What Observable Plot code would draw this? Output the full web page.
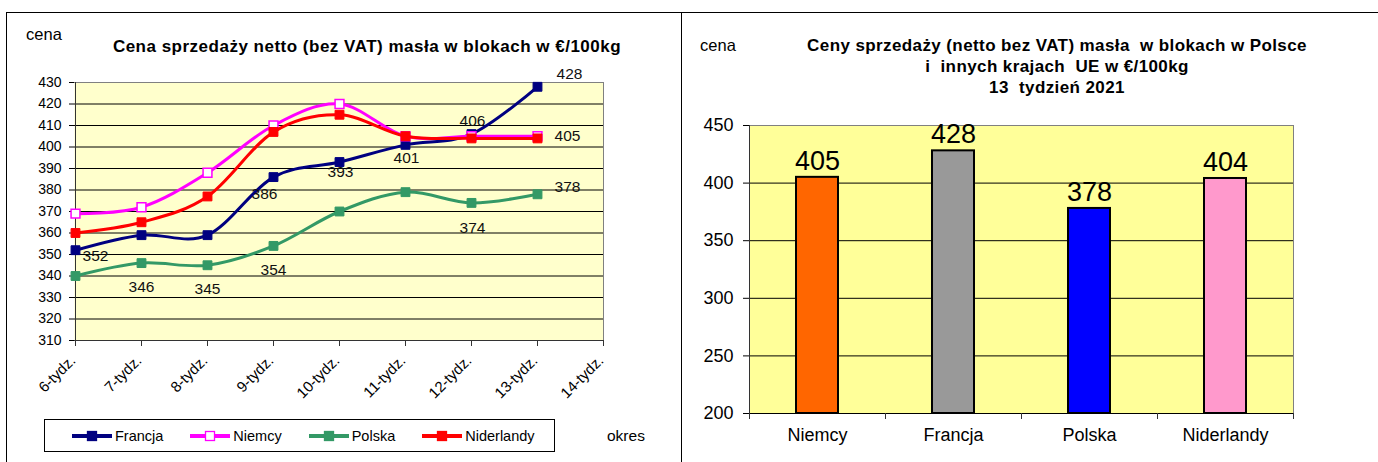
<!DOCTYPE html>
<html><head><meta charset="utf-8">
<script src="https://cdn.jsdelivr.net/npm/d3@7"></script>
<script src="https://cdn.jsdelivr.net/npm/@observablehq/plot@0.6"></script>
<style>
body{margin:0;background:#fff;font-family:"Liberation Sans",Arial,sans-serif;color:#000;}
#root{position:relative;width:1378px;height:462px;overflow:hidden;background:#fff;}
</style></head><body><div id="root"></div>
<script>
// ---------- data ----------
const weeks = ["6-tydz.","7-tydz.","8-tydz.","9-tydz.","10-tydz.","11-tydz.","12-tydz.","13-tydz.","14-tydz."];
const seriesNames = ["Francja","Niemcy","Polska","Niderlandy"];
const francja    = [352,359,359,386,393,401,406,428];
const niemcy     = [369,372,388,410,420,405,405,405];
const polska     = [340,346,345,354,370,379,374,378];
const niderlandy = [360,365,377,407,415,405,404,404];
const yTicksLeft = [310,320,330,340,350,360,370,380,390,400,410,420,430];

const countries = ["Niemcy","Francja","Polska","Niderlandy"];
const week13    = [405,428,378,404];
const yTicksRight = [200,250,300,350,400,450];

const titleLeft = "Cena sprzedaży netto (bez VAT) masła w blokach w €/100kg";
const titleRight = ["Ceny sprzedaży (netto bez VAT) masła  w blokach w Polsce","i  innych krajach  UE w €/100kg","13  tydzień 2021"];

// ---------- styles ----------
const lineColors = {Francja:"#000080", Niemcy:"#FF00FF", Polska:"#339966", Niderlandy:"#FF0000"};
const barColors  = {Niemcy:"#FF6600", Francja:"#999999", Polska:"#0000FF", Niderlandy:"#FF99CC"};
const FONT = "Liberation Sans, Arial, sans-serif";

const root = document.getElementById("root");
function addDiv(css, text){const d=document.createElement("div");d.style.cssText="position:absolute;"+css;if(text!=null)d.textContent=text;root.appendChild(d);return d;}

// panel frames
addDiv("left:6px;top:12px;width:675px;height:470px;border-left:1px solid #000;border-top:1px solid #000;");
addDiv("left:681px;top:12px;width:720px;height:470px;border-left:1px solid #000;border-top:1px solid #000;");

// ---------- left chart ----------
const seriesVals = [francja, niemcy, polska, niderlandy];
const rows = {};
seriesNames.forEach((s,i)=>{rows[s]=seriesVals[i].map((v,j)=>({series:s, week:weeks[j], value:v}));});

const labelPlacement = [
  ["Francja",0,20,6],["Francja",3,-9,17],["Francja",4,1,10],["Francja",5,1,13],["Francja",6,1,-13],["Francja",7,32,-13],
  ["Niemcy",7,30,0],
  ["Polska",1,0,24],["Polska",2,0,24],["Polska",3,0,24],["Polska",6,1,25],["Polska",7,30,-7]
];

const seriesMarks = [];
seriesNames.forEach(s=>{
  seriesMarks.push(Plot.line(rows[s], {x:"week", y:"value", stroke:lineColors[s], strokeWidth:3, curve:"cardinal"}));
  seriesMarks.push(Plot.dot(rows[s], {x:"week", y:"value", symbol:"square", r:5,
    fill: s==="Niemcy" ? "#FFFFFF" : lineColors[s], stroke: lineColors[s], strokeWidth: s==="Niemcy"?1.5:1}));
});
const labelMarks = labelPlacement.map(([s,i,dx,dy])=>Plot.text([rows[s][i]], {x:"week", y:"value", text:d=>String(d.value), dx, dy, fontSize:15.5, fill:"#111"}));

const leftPlot = Plot.plot({
  width:681, height:462,
  marginLeft:74, marginRight:78, marginTop:82, marginBottom:122,
  x:{type:"point", domain:weeks, padding:0, axis:null},
  y:{domain:[310,430], axis:null},
  style:{background:"transparent", fontFamily:FONT, color:"#000", overflow:"visible"},
  marks:[
    Plot.frame({fill:"#FFFFCC", stroke:"none"}),
    Plot.ruleY(yTicksLeft.slice(1,-1), {stroke:"#000", strokeWidth:1}),
    Plot.ruleY([430], {stroke:"#808080"}),
    Plot.ruleX([weeks[weeks.length-1]], {stroke:"#808080"}),
    Plot.ruleX([weeks[0]], {stroke:"#333"}),
    Plot.ruleY([310], {stroke:"#333"}),
    Plot.axisY({ticks:yTicksLeft, tickSize:5, tickPadding:8, fontSize:14, label:null}),
    Plot.ruleX(weeks, {x:d=>d, y1:310, y2:310, insetBottom:-6, stroke:"#333"}),
    Plot.text(weeks, {x:d=>d, frameAnchor:"bottom", text:d=>d, rotate:-45, textAnchor:"end", dx:1, dy:21, fontSize:15}),
    ...seriesMarks,
    ...labelMarks
  ]
});
leftPlot.style.position="absolute"; leftPlot.style.left="0px"; leftPlot.style.top="0px";
root.appendChild(leftPlot);

addDiv("left:18px;top:25px;width:52px;text-align:center;font-size:16.5px;", "cena");
addDiv("left:67px;top:37px;width:600px;text-align:center;font-size:17px;letter-spacing:0.5px;font-weight:bold;", titleLeft);
addDiv("left:607px;top:427px;font-size:15.5px;", "okres");

// legend
const legend = addDiv("left:44px;top:419px;width:511px;height:33px;border:1px solid #000;display:flex;align-items:center;gap:27px;padding-left:27px;box-sizing:border-box;font-size:14.5px;");
seriesNames.forEach(s=>{
  const item=document.createElement("div");
  item.style.cssText="display:flex;align-items:center;gap:3px;";
  const c=lineColors[s];
  const fill = s==="Niemcy" ? "#FFFFFF" : c;
  item.innerHTML=`<svg width="40" height="12"><line x1="0" y1="6" x2="40" y2="6" stroke="${c}" stroke-width="4"/><rect x="15.5" y="1.5" width="9" height="9" fill="${fill}" stroke="${c}" stroke-width="1.3"/></svg><span>${s}</span>`;
  legend.appendChild(item);
});

// ---------- right chart ----------
const barRows = countries.map((c,i)=>({country:c, value:week13[i]}));
const bw = (697-68-85)/countries.length;

const rightPlot = Plot.plot({
  width:697, height:462,
  marginLeft:68, marginRight:85, marginTop:125, marginBottom:49,
  x:{type:"band", domain:countries, padding:0, axis:null},
  y:{domain:[200,450], axis:null},
  color:{type:"identity"},
  style:{background:"transparent", fontFamily:FONT, color:"#000", overflow:"visible"},
  marks:[
    Plot.frame({fill:"#FFFF99", stroke:"none"}),
    Plot.ruleY(yTicksRight.slice(1,-1), {stroke:"#000"}),
    Plot.frame({stroke:"#808080", fill:"none"}),
    Plot.ruleY([200], {stroke:"#000"}),
    Plot.ruleX([countries[0]], {x:d=>d, dx:-bw/2, stroke:"#333"}),
    Plot.barY(barRows, {x:"country", y1:200, y2:"value", fill:d=>barColors[d.country], stroke:"#000", strokeWidth:2, insetLeft:47, insetRight:47}),
    Plot.ruleX(countries, {x:d=>d, y1:200, y2:200, insetBottom:-6, dx:-bw/2, stroke:"#333"}),
    Plot.ruleX([countries[countries.length-1]], {x:d=>d, y1:200, y2:200, insetBottom:-6, dx:bw/2, stroke:"#333"}),
    Plot.axisY({ticks:yTicksRight, tickSize:6, tickPadding:10, fontSize:18, label:null}),
    Plot.axisX({tickSize:0, tickPadding:15, fontSize:18, label:null}),
    Plot.text(barRows, {x:"country", y:"value", text:d=>String(d.value), dy:-16, fontSize:27})
  ]
});
rightPlot.style.position="absolute"; rightPlot.style.left="681px"; rightPlot.style.top="0px";
root.appendChild(rightPlot);

addDiv("left:692px;top:36px;width:52px;text-align:center;font-size:16.5px;", "cena");
const rt = addDiv("left:757px;top:35px;width:600px;text-align:center;font-size:17px;letter-spacing:0.4px;font-weight:bold;line-height:21px;white-space:pre;");
rt.textContent = titleRight.join("\n");
</script></body></html>
